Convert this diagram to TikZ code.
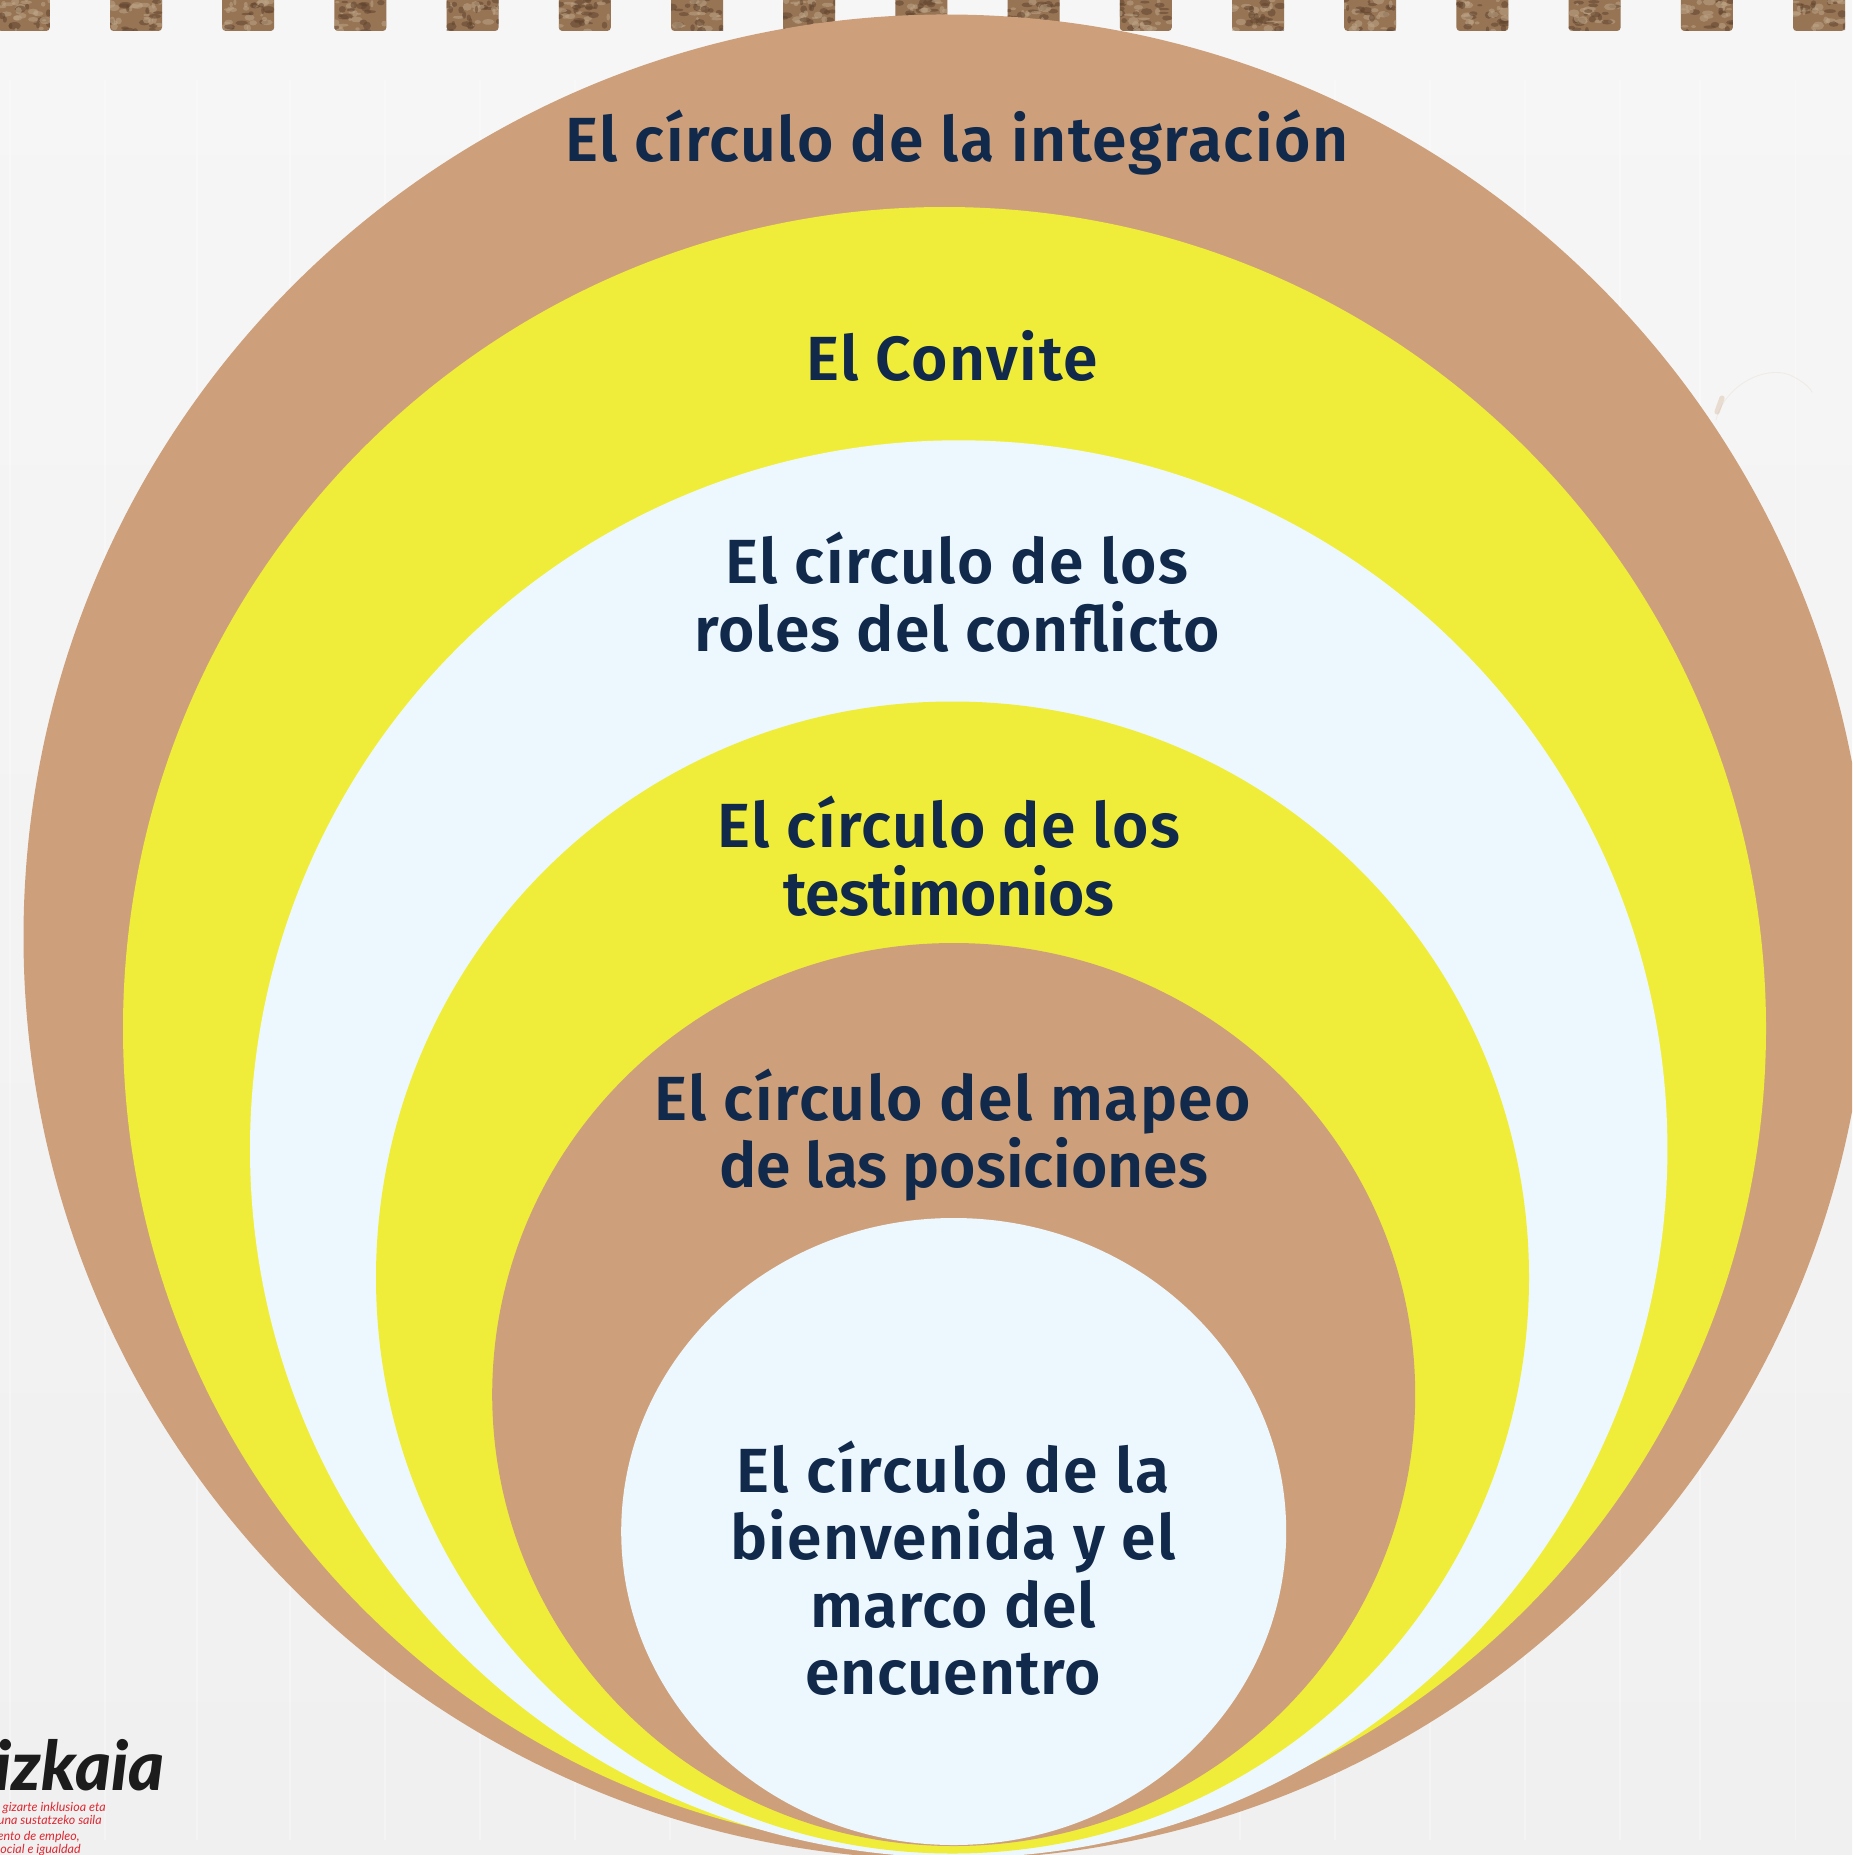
\documentclass[tikz,border=0pt]{standalone}
\usepackage{fontspec}
\setmainfont{Fira Sans}[BoldFont={Fira Sans SemiBold}]
\newfontfamily\logofont{Lato Black}[ItalicFont={Lato Black Italic}]
\newfontfamily\subfont{Lato}
\newcommand{\lsp}[2]{{\addfontfeatures{LetterSpace=#1}#2}}
\definecolor{tanc}{RGB}{205,160,123}
\definecolor{yelc}{RGB}{240,237,58}
\definecolor{palec}{RGB}{237,248,254}
\definecolor{inkc}{RGB}{17,41,74}
\definecolor{corkc}{RGB}{150,116,84}
\definecolor{corkd}{RGB}{98,68,46}
\definecolor{corkl}{RGB}{190,165,135}
\definecolor{bgtop}{RGB}{246,246,246}
\definecolor{bgbot}{RGB}{240,240,240}
\definecolor{redc}{RGB}{222,40,50}
\definecolor{logoc}{RGB}{28,28,28}
\tikzset{
  px/.style={x=0.02cm,y=-0.02cm},
  title/.style={font=\fontsize{35.5pt}{38.4pt}\selectfont\bfseries,text=inkc,align=center,inner sep=0pt},
  logo/.style={font=\logofont\fontsize{39pt}{39pt}\selectfont\itshape,text=logoc,inner sep=0pt,anchor=base east},
  sub/.style={font=\subfont\fontsize{7.1pt}{8pt}\selectfont\itshape,text=redc,inner sep=0pt,anchor=base east},
  crease/.style={white,line width=0.6pt,opacity=0.3},
  stain/.style={tanc,line cap=round}
}
\begin{document}
\begin{tikzpicture}[px]
\useasboundingbox (0,0) rectangle (1852,1855);
\clip (0,0) rectangle (1852,1855);
\shade[top color=bgtop,bottom color=bgbot] (0,0) rectangle (1852,1855);
\foreach \x in {10,105,197,290,385,480,575,670,765,860,955,1050,1145,1240,1335,1430,1525,1620,1700,1795}
  \draw[crease] (\x,80) -- (\x,1840);
\draw[stain,line width=0.5pt,opacity=0.12] (1716,420) .. controls (1725,385) and (1765,365) .. (1790,375) .. controls (1800,380) and (1808,385) .. (1812,392);
\draw[stain,line width=3pt,opacity=0.3] (1717,412) -- (1722,398);
\pgfmathsetseed{7}
\foreach \k in {-1,0,...,15}{
  \pgfmathsetmacro{\xa}{110+112.2*\k}
  \fill[corkc,rounded corners=2pt] (\xa,-5) rectangle ++(52,36);
  \begin{scope}
    \clip (\xa,0) rectangle ++(52,31);
    \foreach \i in {1,...,34}{
      \pgfmathsetmacro{\bx}{\xa+rnd*52}
      \pgfmathsetmacro{\by}{rnd*31}
      \pgfmathsetmacro{\bw}{1.5+rnd*5}
      \pgfmathsetmacro{\bh}{1+rnd*3}
      \pgfmathsetmacro{\pick}{rnd}
      \ifdim\pick pt<0.5pt
        \fill[corkl,opacity=0.55] (\bx,\by) ellipse ({\bw} and {\bh});
      \else
        \fill[corkd,opacity=0.55] (\bx,\by) ellipse ({\bw} and {\bh});
      \fi
    }
  \end{scope}
}
% circles
\fill[tanc]  (946,937)    ellipse (922.5 and 922.5);
\fill[yelc]  (944.5,1028.5) ellipse (821.5 and 821.5);
\fill[palec] (958.7,1149) ellipse (708.7 and 708.7);
\fill[yelc]  (952.5,1277.5) ellipse (576.5 and 576);
\fill[tanc]  (953.7,1394.5) ellipse (461.5 and 451.5);
\fill[palec] (953.7,1531.5) ellipse (332.5 and 313.5);
% labels
\node[title] (t1) at (957,143) {\lsp{2.5}{El círculo de la integración}};
\node[title] (t2) at (952,356) {\lsp{2.5}{El Convite}};
\node[title] (t3) at (957,592) {\lsp{2.5}{El círculo de los}\\\lsp{1.8}{roles del conf{}licto}};
\node[title] (t4) at (949,856) {\lsp{2.5}{El círculo de los}\\\lsp{-1.1}{testimonios}};
\node[title] (t5) at (953,1135) {\lsp{2.5}{El círculo del mapeo}\\\hspace*{12pt}\lsp{0}{de las posiciones}};
\node[title] (t6) at (953,1568) {\lsp{3}{El círculo de la}\\\lsp{1.9}{bienvenida y el}\\\lsp{1.3}{marco del}\\\lsp{1.3}{encuentro}};
% logo
\node[logo] (lg) at (165,1790) {izkaia};
\node[sub] (s1) at (106,1811) {gizarte inklusioa eta};
\node[sub] (s2) at (102,1824) {una sustatzeko saila};
\node[sub] (s3) at (80,1840) {ento de empleo,};
\node[sub] (s4) at (81,1853) {ocial e igualdad};
\end{tikzpicture}
\end{document}
